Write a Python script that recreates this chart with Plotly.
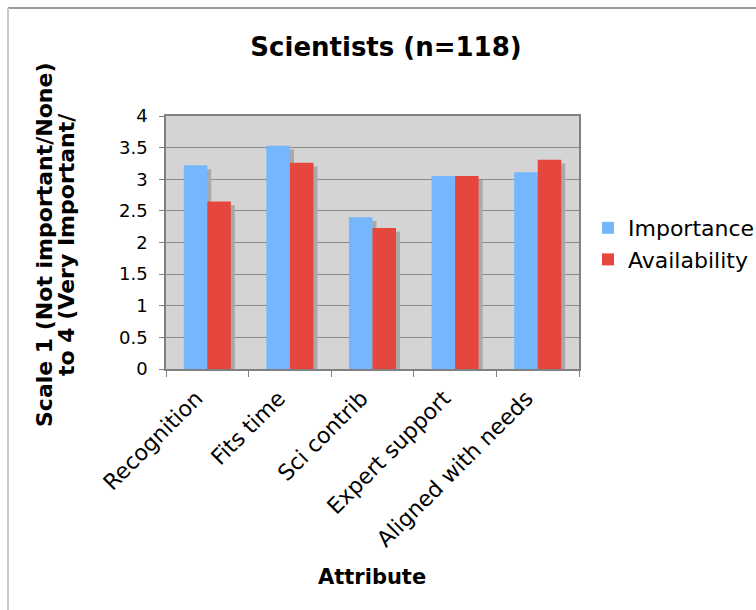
import plotly.graph_objects as go

# Survey attributes and mean ratings (scale 1-4)
categories = ["Recognition", "Fits time", "Sci contrib", "Expert support", "Aligned with needs"]
importance = [3.22, 3.53, 2.40, 3.05, 3.11]
availability = [2.65, 3.26, 2.23, 3.05, 3.31]

series_names = ["Importance", "Availability"]
series_colors = ["#74b7fd", "#e5473f"]

FONT = "DejaVu Sans"
BAR_W = 0.285          # width of one bar in category units
SHADOW_DX = 0.048      # drop-shadow horizontal shift (category units)
SHADOW_DY = 0.06       # drop-shadow vertical shift (value units)

fig = go.Figure()

series = [importance, availability]
offsets = [-BAR_W, 0.0]

# soft drop shadows behind each bar
for vals, off in zip(series, offsets):
    fig.add_trace(go.Bar(
        x=categories, y=[v - SHADOW_DY for v in vals],
        offset=off + SHADOW_DX, width=BAR_W,
        marker=dict(color="#a9a9a9", line=dict(width=0)),
        showlegend=False, hoverinfo="skip",
    ))

for name, vals, off, col in zip(series_names, series, offsets, series_colors):
    fig.add_trace(go.Bar(
        x=categories, y=vals, name=name,
        offset=off, width=BAR_W,
        marker=dict(color=col, line=dict(width=0)),
    ))

L, R, T, B = 166, 177, 116, 241
W, H = 756, 610
pw, ph = W - L - R, H - T - B


def px_x(p):
    return (p - L) / pw


def px_y(p):
    return (H - B - p) / ph


fig.update_layout(
    width=W, height=H,
    margin=dict(l=L, r=R, t=T, b=B, pad=0, autoexpand=False),
    barmode="overlay",
    paper_bgcolor="white",
    plot_bgcolor="#d4d4d4",
    font=dict(family=FONT, size=22, color="black"),
    title=dict(text="<b>Scientists (n=118)</b>", x=386 / W, xref="container",
               y=1 - 47 / H, yref="container", xanchor="center", yanchor="middle",
               font=dict(family=FONT, size=26, color="black")),
    legend=dict(x=px_x(588), y=px_y(207), xanchor="left", yanchor="top",
                bgcolor="rgba(0,0,0,0)", font=dict(size=22, family=FONT),
                itemwidth=30, tracegroupgap=0),
    showlegend=True,
)

fig.update_xaxes(
    type="category", tickangle=-45, tickson="boundaries",
    ticks="outside", ticklen=6, tickcolor="#808080",
    showline=True, linecolor="#808080", linewidth=1.5, mirror=True,
    showgrid=False, tickfont=dict(size=22, family=FONT),
    ticklabelshift=-11, ticklabelstandoff=6,
)
fig.update_yaxes(
    range=[0, 4], dtick=0.5, tick0=0,
    ticks="outside", ticklen=5, tickcolor="#808080",
    showline=True, linecolor="#808080", linewidth=1.5, mirror=True,
    showgrid=True, gridcolor="#8a8a8a", gridwidth=1,
    zeroline=False, tickfont=dict(size=18, family=FONT),
    ticklabelstandoff=8,
)

# axis titles (two stacked lines on the value axis)
for line_text, xc in [("Scale 1 (Not important/None)", 45),
                      ("to 4 (Very Important/", 67)]:
    fig.add_annotation(
        text="<b>" + line_text + "</b>",
        x=px_x(xc), y=px_y(245), xref="paper", yref="paper",
        textangle=-90, showarrow=False, xanchor="center", yanchor="middle",
        font=dict(family=FONT, size=22, color="black"),
    )
fig.add_annotation(
    text="<b>Attribute</b>", x=px_x(372), y=px_y(577), xref="paper", yref="paper",
    showarrow=False, xanchor="center", yanchor="middle",
    font=dict(family=FONT, size=21, color="black"),
)

# outer chart frame (top and left edges)
fig.add_shape(type="line", xref="paper", yref="paper",
              x0=px_x(8), y0=px_y(8), x1=px_x(W + 5), y1=px_y(8),
              line=dict(color="#9a9a9a", width=2))
fig.add_shape(type="line", xref="paper", yref="paper",
              x0=px_x(8), y0=px_y(8), x1=px_x(8), y1=px_y(H + 5),
              line=dict(color="#c8c8c8", width=2))

fig.write_html("out.html")
